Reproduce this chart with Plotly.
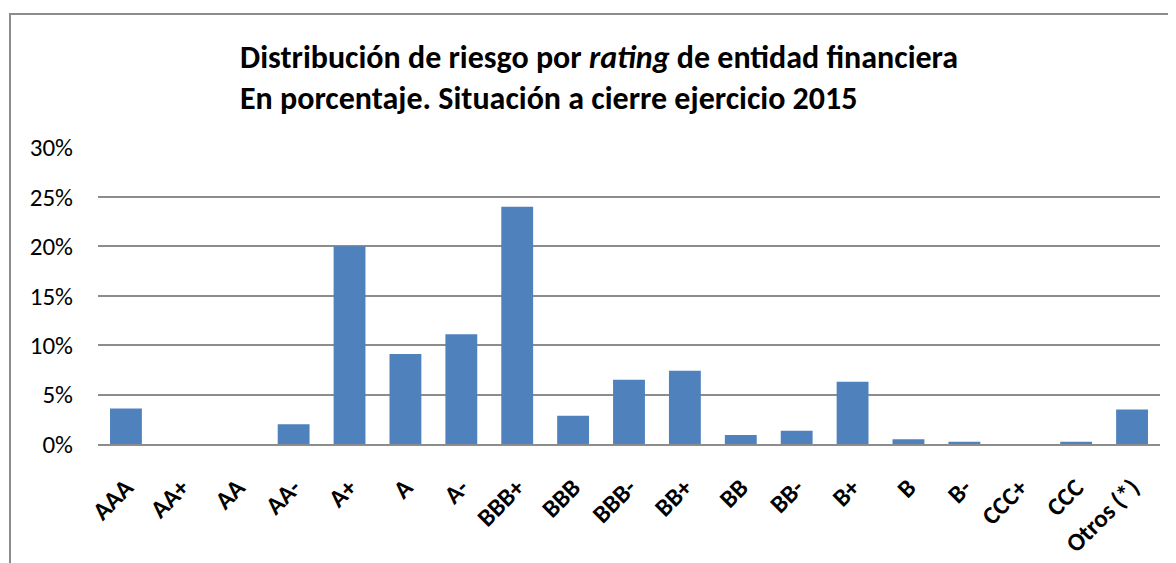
import plotly.graph_objects as go

categories = ["AAA", "AA+", "AA", "AA-", "A+", "A", "A-", "BBB+", "BBB", "BBB-",
              "BB+", "BB", "BB-", "B+", "B", "B-", "CCC+", "CCC", "Otros (*)"]
values_pct = [3.6, 0.0, 0.0, 2.0, 20.0, 9.1, 11.1, 24.0, 2.85, 6.5,
              7.4, 0.9, 1.35, 6.3, 0.47, 0.23, 0.0, 0.23, 3.5]
y_ticks = [0, 0.05, 0.10, 0.15, 0.20, 0.25, 0.30]

title_line1 = "Distribución de riesgo por <i>rating</i> de entidad financiera"
title_line2 = "En porcentaje. Situación a cierre ejercicio 2015"

# page body has an 8px margin, so work in figure coordinates = screen - 8
OFF = 8
W, H = 1176 - OFF, 563 - OFF
L = 98 - OFF
R = W - (1160 - OFF)
T = 147 - OFF
B = H - (444 - OFF)
pw, ph = W - L - R, H - T - B

def px_x(x):
    return (x - OFF - L) / pw

def px_y(y):
    return (H - B - (y - OFF)) / ph

fig = go.Figure(go.Bar(
    x=categories,
    y=[v / 100 for v in values_pct],
    marker=dict(color="#4F81BD", line=dict(width=0)),
))

font_family = "Carlito, Calibri, Lato, 'Open Sans', sans-serif"

fig.update_layout(
    width=W, height=H,
    margin=dict(l=L, r=R, t=T, b=B),
    plot_bgcolor="white", paper_bgcolor="white",
    showlegend=False,
    bargap=0.43,
    font=dict(family=font_family, color="black"),
    xaxis=dict(
        tickangle=-45,
        tickfont=dict(size=25, family=font_family, weight="bold"),
        showline=True, linecolor="#8c8c8c", linewidth=2,
        ticks="", showgrid=False,
        ticklabelstandoff=17,
        automargin=False,
    ),
    yaxis=dict(
        range=[0, 0.3005],
        tickvals=y_ticks,
        tickformat=".0%",
        tickfont=dict(size=25, family=font_family),
        showgrid=True, gridcolor="#8c8c8c", gridwidth=2,
        zeroline=False, showline=False, ticks="",
        ticklabelstandoff=24,
        automargin=False,
    ),
    annotations=[
        dict(text=title_line1, x=px_x(238), y=px_y(57), xref="paper", yref="paper",
             xanchor="left", yanchor="middle", showarrow=False,
             font=dict(size=32, family=font_family, weight="bold")),
        dict(text=title_line2, x=px_x(238), y=px_y(98), xref="paper", yref="paper",
             xanchor="left", yanchor="middle", showarrow=False,
             font=dict(size=32, family=font_family, weight="bold")),
    ],
    shapes=[
        dict(type="rect", xref="paper", yref="paper",
             x0=px_x(10), x1=px_x(1200), y0=px_y(600), y1=px_y(14),
             line=dict(color="#8c8c8c", width=2), fillcolor="rgba(0,0,0,0)",
             layer="below"),
    ],
)

fig.write_html("out.html")
